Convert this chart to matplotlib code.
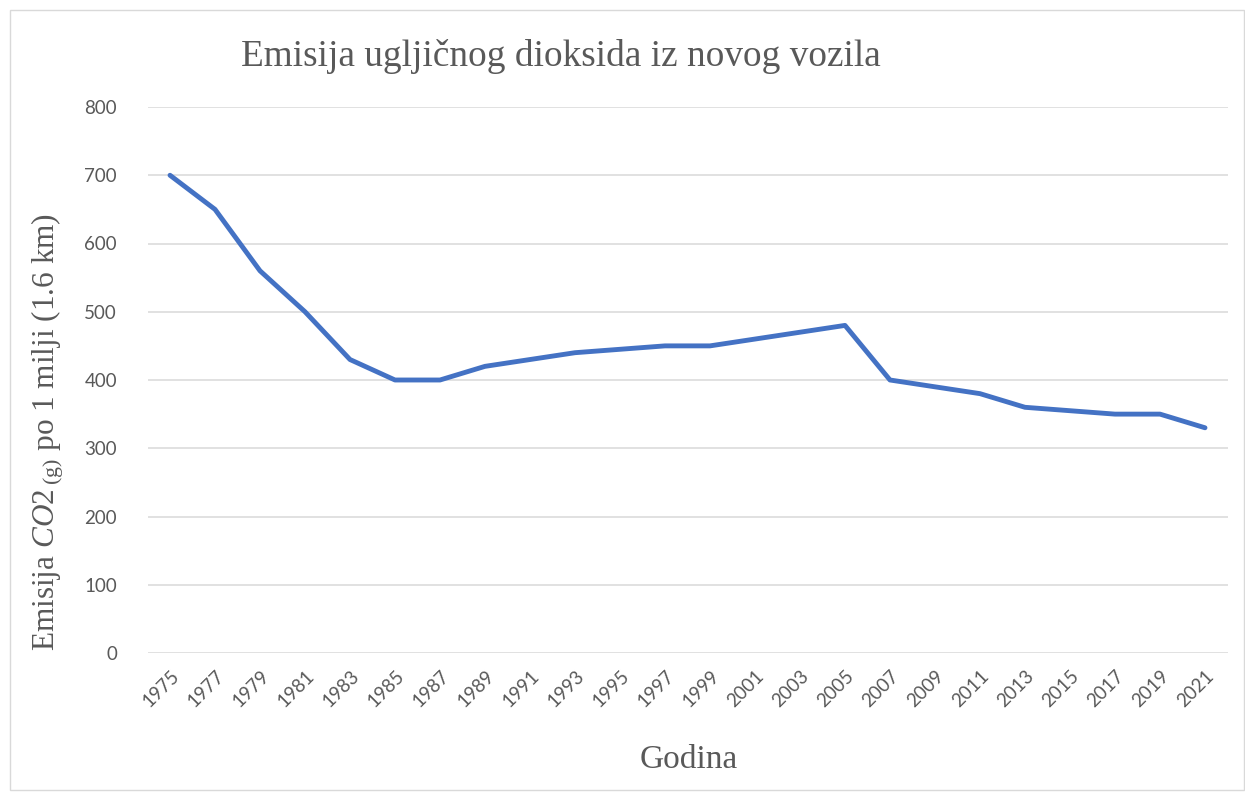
import matplotlib
matplotlib.use("Agg")
import matplotlib.pyplot as plt
from matplotlib.patches import Rectangle

years = [str(y) for y in range(1975, 2022, 2)]
emissions = [700, 650, 560, 500, 430, 400, 400, 420, 430, 440, 445, 450,
             450, 460, 470, 480, 400, 390, 380, 360, 355, 350, 350, 330]
yticks = [0, 100, 200, 300, 400, 500, 600, 700, 800]

plt.rcParams['mathtext.fontset'] = 'custom'
plt.rcParams['mathtext.rm'] = 'Liberation Serif'
plt.rcParams['mathtext.it'] = 'Liberation Serif:italic'

W, H = 1245, 793
fig = plt.figure(figsize=(W / 100, H / 100), dpi=100)
fig.patches.append(Rectangle((10 / W, 3 / H), 1 - 11 / W, 1 - 13 / H,
                             transform=fig.transFigure, fill=False,
                             edgecolor='#D9D9D9', linewidth=1))

left, right, top, bottom = 147.5, 1227.5, 107, 653
ax = fig.add_axes([left / W, 1 - bottom / H, (right - left) / W, (bottom - top) / H])
x = list(range(len(years)))
ax.plot(x, emissions, color='#4472C4', linewidth=3.5, solid_capstyle='round',
        solid_joinstyle='round', zorder=3)
ax.set_xlim(-0.5, len(years) - 0.5)
ax.set_ylim(0, 800)
ax.set_yticks(yticks)
ax.set_xticks(x)
ax.set_xticklabels(years, rotation=45, ha='right', rotation_mode='anchor')
ax.grid(axis='y', color='#D9D9D9', linewidth=1.1)
ax.set_axisbelow(True)
for s in ax.spines.values():
    s.set_visible(False)
ax.tick_params(length=0, colors='#595959', labelsize=13.5)
ax.tick_params(axis='y', pad=22)
ax.tick_params(axis='x', pad=10)
for lab in ax.get_xticklabels() + ax.get_yticklabels():
    lab.set_fontfamily('Lato')

fig.text(561 / W, 1 - 57 / H, 'Emisija ugljičnog dioksida iz novog vozila',
         ha='center', va='center', fontsize=26.8, color='#595959',
         family='Liberation Serif')
fig.text(48 / W, 1 - 432 / H,
         r'Emisija $CO2\,_{\mathrm{(g)}}$ po 1 milji (1.6 km)',
         ha='center', va='center', rotation=90, fontsize=22.5, color='#595959',
         family='Liberation Serif')
fig.text(689 / W, 1 - 760 / H, 'Godina', ha='center', va='center',
         fontsize=24, color='#595959', family='Liberation Serif')

fig.savefig('out.png', dpi=100)
